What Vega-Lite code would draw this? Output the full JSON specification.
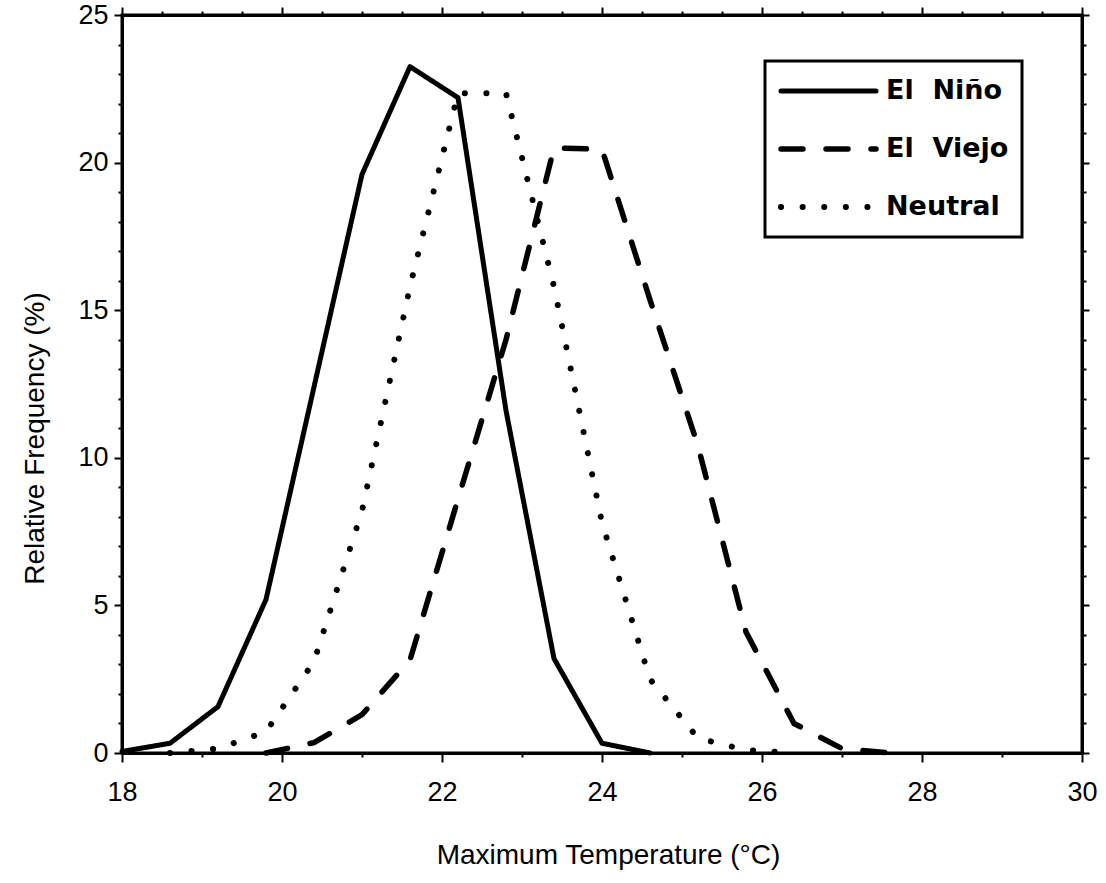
{
  "$schema": "https://vega.github.io/schema/vega-lite/v6.json",
  "width": 960,
  "height": 738,
  "autosize": "none",
  "padding": {"left": 122, "top": 15, "right": 24, "bottom": 130},
  "background": "white",
  "config": {
    "view": {"stroke": "black", "strokeWidth": 3},
    "axis": {
      "grid": false,
      "domainColor": "black",
      "domainWidth": 3,
      "tickColor": "black",
      "tickWidth": 2,
      "labelFont": "Liberation Sans",
      "labelFontSize": 27,
      "labelColor": "black",
      "titleFont": "Liberation Sans",
      "titleFontSize": 28,
      "titleFontWeight": "normal",
      "titleColor": "black",
      "labelFlush": false,
      "labelOverlap": false
    }
  },
  "data": {
    "values": [
      {"t": 18.0, "v": 0.05, "s": "El Niño"},
      {"t": 18.6, "v": 0.33, "s": "El Niño"},
      {"t": 19.2, "v": 1.57, "s": "El Niño"},
      {"t": 19.8, "v": 5.2, "s": "El Niño"},
      {"t": 20.4, "v": 12.4, "s": "El Niño"},
      {"t": 21.0, "v": 19.6, "s": "El Niño"},
      {"t": 21.6, "v": 23.25, "s": "El Niño"},
      {"t": 22.2, "v": 22.2, "s": "El Niño"},
      {"t": 22.8, "v": 11.6, "s": "El Niño"},
      {"t": 23.4, "v": 3.2, "s": "El Niño"},
      {"t": 24.0, "v": 0.33, "s": "El Niño"},
      {"t": 24.6, "v": 0.0, "s": "El Niño"},
      {"t": 19.8, "v": 0.0, "s": "El Viejo"},
      {"t": 20.4, "v": 0.35, "s": "El Viejo"},
      {"t": 21.0, "v": 1.3, "s": "El Viejo"},
      {"t": 21.6, "v": 3.15, "s": "El Viejo"},
      {"t": 22.2, "v": 8.6, "s": "El Viejo"},
      {"t": 22.8, "v": 14.0, "s": "El Viejo"},
      {"t": 23.4, "v": 20.5, "s": "El Viejo"},
      {"t": 24.0, "v": 20.45, "s": "El Viejo"},
      {"t": 24.6, "v": 15.35, "s": "El Viejo"},
      {"t": 25.2, "v": 10.4, "s": "El Viejo"},
      {"t": 25.8, "v": 4.1, "s": "El Viejo"},
      {"t": 26.4, "v": 1.0, "s": "El Viejo"},
      {"t": 27.0, "v": 0.15, "s": "El Viejo"},
      {"t": 27.6, "v": 0.0, "s": "El Viejo"},
      {"t": 18.6, "v": 0.0, "s": "Neutral"},
      {"t": 19.2, "v": 0.15, "s": "Neutral"},
      {"t": 19.8, "v": 0.72, "s": "Neutral"},
      {"t": 20.4, "v": 3.1, "s": "Neutral"},
      {"t": 21.0, "v": 8.2, "s": "Neutral"},
      {"t": 21.6, "v": 15.8, "s": "Neutral"},
      {"t": 22.2, "v": 22.35, "s": "Neutral"},
      {"t": 22.8, "v": 22.35, "s": "Neutral"},
      {"t": 23.4, "v": 15.8, "s": "Neutral"},
      {"t": 24.0, "v": 7.8, "s": "Neutral"},
      {"t": 24.6, "v": 2.5, "s": "Neutral"},
      {"t": 25.2, "v": 0.5, "s": "Neutral"},
      {"t": 25.8, "v": 0.1, "s": "Neutral"},
      {"t": 26.4, "v": 0.0, "s": "Neutral"}
    ]
  },
  "layer": [
    {
      "mark": {"type": "line", "color": "black", "strokeCap": "round", "strokeJoin": "round"},
      "encoding": {
        "x": {
          "field": "t",
          "type": "quantitative",
          "scale": {"domain": [18, 30], "nice": false, "zero": false},
          "axis": {
            "orient": "bottom",
            "values": [18, 18.5, 19, 19.5, 20, 20.5, 21, 21.5, 22, 22.5, 23, 23.5, 24, 24.5, 25, 25.5, 26, 26.5, 27, 27.5, 28, 28.5, 29, 29.5, 30],
            "format": "d",
            "labelExpr": "datum.value % 2 === 0 ? datum.label : ''",
            "tickSize": {"condition": {"test": "datum.value % 2 === 0", "value": 9}, "value": 4},
            "labelPadding": 17,
            "title": "Maximum Temperature (°C)",
            "titleX": 486,
            "titleY": 102,
            "titleAlign": "center",
            "titleBaseline": "middle"
          }
        },
        "y": {
          "field": "v",
          "type": "quantitative",
          "scale": {"domain": [0, 25], "nice": false},
          "axis": {
            "orient": "left",
            "values": [0, 1, 2, 3, 4, 5, 6, 7, 8, 9, 10, 11, 12, 13, 14, 15, 16, 17, 18, 19, 20, 21, 22, 23, 24, 25],
            "format": "d",
            "labelExpr": "datum.value % 5 === 0 ? datum.label : ''",
            "tickSize": {"condition": {"test": "datum.value % 5 === 0", "value": 8}, "value": 4},
            "labelPadding": 6,
            "title": "Relative Frequency (%)",
            "titleX": -87,
            "titleY": 423,
            "titleAlign": "center",
            "titleBaseline": "middle"
          }
        },
        "strokeDash": {
          "field": "s",
          "type": "nominal",
          "scale": {"domain": ["El Niño", "El Viejo", "Neutral"], "range": [[1, 0], [22, 23], [0.1, 21.5]]},
          "legend": {
            "orient": "none",
            "legendX": 643,
            "legendY": 46,
            "title": null,
            "symbolType": "stroke",
            "symbolSize": 9025,
            "symbolStrokeWidth": 5,
            "symbolStrokeColor": "black",
            "clipHeight": 34,
            "labelFont": "DejaVu Sans",
            "labelFontWeight": "bold",
            "labelFontSize": 27,
            "labelColor": "black",
            "labelOffset": 7,
            "padding": 13,
            "rowPadding": 24,
            "strokeColor": "black",
            "fillColor": "white",
            "labelExpr": "replace(datum.label, ' ', ' \u00a0') + '\u00a0'",
            "encode": {
              "legend": {"update": {"strokeWidth": {"value": 3}}},
              "symbols": {"update": {"strokeCap": {"value": "round"}}}
            }
          }
        },
        "strokeWidth": {
          "field": "s",
          "type": "nominal",
          "scale": {"domain": ["El Niño", "El Viejo", "Neutral"], "range": [5, 6, 3.8]},
          "legend": null
        }
      }
    },
    {
      "mark": {"type": "line", "opacity": 0},
      "encoding": {
        "x": {
          "field": "t",
          "type": "quantitative",
          "scale": {"domain": [18, 30], "nice": false, "zero": false},
          "axis": {
            "orient": "top",
            "values": [18, 18.5, 19, 19.5, 20, 20.5, 21, 21.5, 22, 22.5, 23, 23.5, 24, 24.5, 25, 25.5, 26, 26.5, 27, 27.5, 28, 28.5, 29, 29.5, 30],
            "labels": false,
            "tickSize": {"condition": {"test": "datum.value % 2 === 0", "value": 8}, "value": 4},
            "title": null
          }
        },
        "y": {
          "field": "v",
          "type": "quantitative",
          "scale": {"domain": [0, 25], "nice": false},
          "axis": {
            "orient": "right",
            "values": [0, 1, 2, 3, 4, 5, 6, 7, 8, 9, 10, 11, 12, 13, 14, 15, 16, 17, 18, 19, 20, 21, 22, 23, 24, 25],
            "labels": false,
            "tickSize": {"condition": {"test": "datum.value % 5 === 0", "value": 7}, "value": 4},
            "title": null
          }
        },
        "detail": {"field": "s", "type": "nominal"}
      }
    }
  ],
  "resolve": {"axis": {"x": "independent", "y": "independent"}}
}
